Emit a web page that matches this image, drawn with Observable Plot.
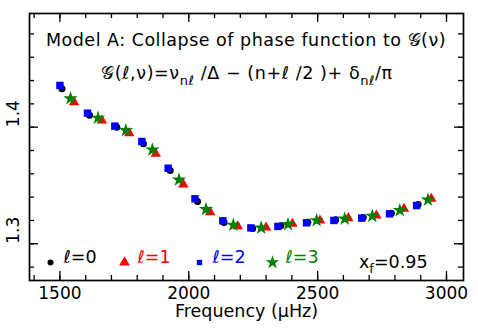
<!DOCTYPE html>
<html>
<head>
<meta charset="utf-8">
<script src="https://cdn.jsdelivr.net/npm/d3@7"></script>
<script src="https://cdn.jsdelivr.net/npm/@observablehq/plot@0.6"></script>
<style>
  html, body { margin: 0; padding: 0; background: #fff; }
  #chart { width: 478px; height: 333px; }
</style>
</head>
<body>
<div id="chart"></div>
<script>
// ---- data ----
const freqL0 = [1508, 1615, 1721, 1824, 1928, 2034, 2137, 2248, 2357, 2462, 2570, 2677, 2786, 2890];
const gL0    = [1.4329, 1.4103, 1.3999, 1.3858, 1.3629, 1.3363, 1.3183, 1.3130, 1.3154, 1.3185, 1.3206, 1.3226, 1.3262, 1.3337];
const freqL1 = [1555, 1663, 1769, 1872, 1979, 2083, 2190, 2300, 2402, 2509, 2619, 2728, 2835, 2941];
const gL1    = [1.4214, 1.4057, 1.3949, 1.3772, 1.3509, 1.3271, 1.3150, 1.3140, 1.3172, 1.3200, 1.3220, 1.3243, 1.3300, 1.3386];
const freqL2 = [1500, 1607, 1713, 1818, 1920, 2024, 2132, 2241, 2346, 2457, 2563, 2671, 2779, 2884];
const gL2    = [1.4358, 1.4120, 1.4009, 1.3877, 1.3648, 1.3386, 1.3197, 1.3136, 1.3149, 1.3180, 1.3200, 1.3220, 1.3257, 1.3328];
const freqL3 = [1541, 1648, 1756, 1859, 1962, 2067, 2173, 2281, 2385, 2496, 2605, 2712, 2819, 2928];
const gL3    = [1.4246, 1.4079, 1.3972, 1.3806, 1.3549, 1.3296, 1.3161, 1.3137, 1.3166, 1.3200, 1.3214, 1.3237, 1.3286, 1.3377];

const xMajorTicks = [1500, 2000, 2500, 3000];
const xMinorTicks = [1400, 1500, 1600, 1700, 1800, 1900, 2000, 2100, 2200, 2300, 2400, 2500, 2600, 2700, 2800, 2900, 3000];
const yMajorTicks = [1.3, 1.4];
const yMinorTicks = [1.28, 1.30, 1.32, 1.34, 1.36, 1.38, 1.40, 1.42, 1.44, 1.46, 1.48];

const legendLabels = ["ℓ=0", "ℓ=1", "ℓ=2", "ℓ=3"];
const seriesColors = ["#000000", "#ff0000", "#0000ff", "#008000"];
const seriesSymbols = ["circle", "triangle", "square", "star"];
const xfLabel = "x";
const xfSub = "f";
const xfValue = "=0.95";
const titleLine1 = "Model A: Collapse of phase function to 𝒢(ν)";
const xLabel = "Frequency (μHz)";

// ---- build ----
const W = 478, H = 333;
const mL = 29, mR = 15, mT = 13, mB = 53;
const pw = W - mL - mR, ph = H - mT - mB;

const series = [
  {f: freqL0, g: gL0, r: 3.5},
  {f: freqL1, g: gL1, r: 3.9},
  {f: freqL2, g: gL2, r: 4.2},
  {f: freqL3, g: gL3, r: 4.5}
];

const dotMarks = series.map((s, i) => Plot.dot(s.f.map((f, j) => ({f, g: s.g[j]})), {
  x: "f", y: "g", symbol: () => seriesSymbols[i], fill: seriesColors[i], r: s.r, stroke: "none"
}));

const minorLen = 5, majorLen = 9;
const tickStyle = {stroke: "black", strokeWidth: 1.3};

const legendX = [21, 95, 170, 243];     // symbol offsets from frame left
const legendR = [3.0, 4.0, 3.0, 4.3];
const legendMarks = [];
legendLabels.forEach((lab, i) => {
  legendMarks.push(Plot.dot([lab], {
    frameAnchor: "bottom-left", dx: legendX[i], dy: -18,
    symbol: () => seriesSymbols[i], fill: seriesColors[i], r: legendR[i], stroke: "none"
  }));
  legendMarks.push(Plot.text([lab], {
    text: d => d, frameAnchor: "bottom-left", dx: legendX[i] + 13, dy: -18,
    textAnchor: "start", fill: seriesColors[i], fontSize: 17.5
  }));
});

const chart = Plot.plot({
  width: W, height: H,
  marginLeft: mL, marginRight: mR, marginTop: mT, marginBottom: mB,
  style: {fontFamily: "DejaVu Sans", fontSize: "15px", background: "white", color: "black"},
  x: {domain: [1382, 3066], axis: null},
  y: {domain: [1.2685, 1.4975], axis: null},
  marks: [
    // inward ticks: bottom/top
    Plot.tickX(xMinorTicks, {x: d => d, insetTop: ph - minorLen, ...tickStyle}),
    Plot.tickX(xMinorTicks, {x: d => d, insetBottom: ph - minorLen, ...tickStyle}),
    Plot.tickX(xMajorTicks, {x: d => d, insetTop: ph - majorLen, ...tickStyle}),
    Plot.tickX(xMajorTicks, {x: d => d, insetBottom: ph - majorLen, ...tickStyle}),
    // inward ticks: left/right
    Plot.tickY(yMinorTicks, {y: d => d, insetRight: pw - minorLen, ...tickStyle}),
    Plot.tickY(yMinorTicks, {y: d => d, insetLeft: pw - minorLen, ...tickStyle}),
    Plot.tickY(yMajorTicks, {y: d => d, insetRight: pw - majorLen, ...tickStyle}),
    Plot.tickY(yMajorTicks, {y: d => d, insetLeft: pw - majorLen, ...tickStyle}),
    Plot.frame({stroke: "black", strokeWidth: 1.7}),
    // tick labels
    Plot.text(xMajorTicks, {x: d => d, text: d => String(d), frameAnchor: "bottom", dy: 18, fontSize: 17, letterSpacing: 0.8}),
    Plot.text(yMajorTicks, {y: d => d, text: d => d.toFixed(1), frameAnchor: "left", dx: -16, rotate: -90, fontSize: 17, letterSpacing: 0.5}),
    Plot.text([xLabel], {text: d => d, frameAnchor: "bottom", dy: 36, fontSize: 17.5, letterSpacing: 1.1}),
    ...dotMarks,
    ...legendMarks
  ]
});

document.getElementById("chart").appendChild(chart);

// Annotations inside the frame (title lines and x_f label)
const svg = d3.select(chart);
svg.append("text")
  .attr("x", 246).attr("y", 46)
  .attr("text-anchor", "middle")
  .attr("font-size", 17.5)
  .attr("letter-spacing", 0.5)
  .attr("fill", "black")
  .text(titleLine1);

const t2 = svg.append("text")
  .attr("x", 247).attr("y", 79)
  .attr("text-anchor", "middle")
  .attr("font-size", 17.5)
  .attr("letter-spacing", 0.6)
  .attr("fill", "black");
t2.append("tspan").text("𝒢(ℓ,ν)=ν");
t2.append("tspan").attr("dy", 6).attr("font-size", 13).text("nℓ");
t2.append("tspan").attr("dy", -6).text(" /Δ − (n+ℓ /2 )+ δ");
t2.append("tspan").attr("dy", 6).attr("font-size", 13).text("nℓ");
t2.append("tspan").attr("dy", -6).text("/π");

const xf = svg.append("text")
  .attr("x", 359).attr("y", 268)
  .attr("text-anchor", "start")
  .attr("font-size", 17.5)
  .attr("fill", "black");
xf.append("tspan").text(xfLabel);
xf.append("tspan").attr("dy", 5).attr("font-size", 13).text(xfSub);
xf.append("tspan").attr("dy", -5).text(xfValue);
</script>
</body>
</html>
